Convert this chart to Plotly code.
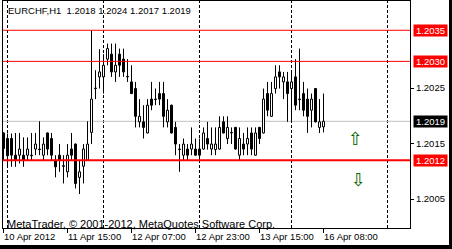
import plotly.graph_objects as go

# ---------------- data ----------------
SYMBOL_TEXT = "EURCHF,H1  1.2018 1.2024 1.2017 1.2019"
COPYRIGHT = "MetaTrader, \u00a9 2001-2012, MetaQuotes Software Corp."

BAR_INDEX = list(range(81))
OPEN = [1.20169, 1.20159, 1.20159, 1.20129, 1.20129, 1.20129, 1.20129, 1.20129, 1.20140, 1.20140,
        1.20129, 1.20169, 1.20159, 1.20120, 1.20129, 1.20110, 1.20099, 1.20140, 1.20149, 1.20089,
        1.20109, 1.20120, 1.20170, 1.20249, 1.20270, 1.20270, 1.20302, 1.20311, 1.20279, 1.20311,
        1.20302, 1.20270, 1.20261, 1.20249, 1.20189, 1.20189, 1.20169, 1.20230, 1.20229, 1.20240,
        1.20240, 1.20189, 1.20219, 1.20179, 1.20140, 1.20129, 1.20140, 1.20140, 1.20140, 1.20140,
        1.20140, 1.20159, 1.20140, 1.20139, 1.20140, 1.20189, 1.20159, 1.20169, 1.20179, 1.20129,
        1.20149, 1.20149, 1.20169, 1.20129, 1.20179, 1.20169, 1.20240, 1.20199, 1.20249, 1.20279,
        1.20261, 1.20261, 1.20249, 1.20270, 1.20230, 1.20240, 1.20230, 1.20210, 1.20249, 1.20179,
        1.20180]
HIGH = [1.20170, 1.20168, 1.20168, 1.20169, 1.20169, 1.20161, 1.20161, 1.20169, 1.20169, 1.20190,
        1.20161, 1.20170, 1.20169, 1.20129, 1.20149, 1.20129, 1.20149, 1.20169, 1.20150, 1.20119,
        1.20149, 1.20190, 1.20354, 1.20282, 1.20320, 1.20311, 1.20330, 1.20330, 1.20330, 1.20321,
        1.20321, 1.20302, 1.20291, 1.20261, 1.20230, 1.20219, 1.20230, 1.20261, 1.20249, 1.20261,
        1.20261, 1.20230, 1.20220, 1.20189, 1.20149, 1.20159, 1.20149, 1.20179, 1.20159, 1.20159,
        1.20179, 1.20189, 1.20179, 1.20179, 1.20199, 1.20199, 1.20199, 1.20179, 1.20180, 1.20179,
        1.20169, 1.20179, 1.20179, 1.20179, 1.20180, 1.20249, 1.20261, 1.20261, 1.20291, 1.20291,
        1.20279, 1.20279, 1.20279, 1.20302, 1.20321, 1.20261, 1.20249, 1.20240, 1.20250, 1.20230,
        1.20240]
LOW = [1.20120, 1.20108, 1.20108, 1.20108, 1.20114, 1.20108, 1.20120, 1.20120, 1.20129, 1.20129,
       1.20120, 1.20129, 1.20120, 1.20089, 1.20099, 1.20078, 1.20089, 1.20120, 1.20069, 1.20059,
       1.20078, 1.20119, 1.20149, 1.20230, 1.20249, 1.20240, 1.20291, 1.20270, 1.20261, 1.20270,
       1.20270, 1.20261, 1.20239, 1.20179, 1.20179, 1.20159, 1.20168, 1.20210, 1.20219, 1.20219,
       1.20179, 1.20179, 1.20168, 1.20129, 1.20099, 1.20120, 1.20120, 1.20129, 1.20128, 1.20120,
       1.20139, 1.20139, 1.20129, 1.20129, 1.20139, 1.20168, 1.20149, 1.20149, 1.20139, 1.20120,
       1.20129, 1.20129, 1.20129, 1.20128, 1.20149, 1.20168, 1.20199, 1.20198, 1.20240, 1.20249,
       1.20230, 1.20189, 1.20189, 1.20210, 1.20210, 1.20199, 1.20169, 1.20179, 1.20188, 1.20169,
       1.20170]
CLOSE = [1.20141, 1.20128, 1.20129, 1.20120, 1.20140, 1.20120, 1.20140, 1.20128, 1.20149, 1.20139,
         1.20149, 1.20140, 1.20129, 1.20108, 1.20120, 1.20109, 1.20129, 1.20129, 1.20078, 1.20099,
         1.20140, 1.20149, 1.20230, 1.20250, 1.20279, 1.20291, 1.20321, 1.20279, 1.20291, 1.20291,
         1.20279, 1.20271, 1.20240, 1.20199, 1.20199, 1.20179, 1.20219, 1.20219, 1.20230, 1.20230,
         1.20199, 1.20210, 1.20169, 1.20149, 1.20139, 1.20149, 1.20129, 1.20149, 1.20129, 1.20129,
         1.20169, 1.20149, 1.20149, 1.20149, 1.20179, 1.20169, 1.20179, 1.20170, 1.20140, 1.20159,
         1.20140, 1.20159, 1.20140, 1.20169, 1.20159, 1.20230, 1.20210, 1.20240, 1.20270, 1.20270,
         1.20270, 1.20240, 1.20261, 1.20219, 1.20229, 1.20210, 1.20199, 1.20230, 1.20189, 1.20189,
         1.20190]

TICK_INDEX = [0, 16, 32, 48, 64, 80]
TICK_LABELS = ["10 Apr 2012", "11 Apr 15:00", "12 Apr 07:00", "12 Apr 23:00", "13 Apr 15:00", "16 Apr 08:00"]
GRID_INDEX = [1, 25, 49, 72, 96]

PRICE_TICKS = [1.2005, 1.2015, 1.2025]

LEVEL_PRICES = [1.20354, 1.20298, 1.20120]
LEVEL_LABELS = ["1.2035", "1.2030", "1.2012"]
LEVEL_WIDTHS = [1, 1, 2]
BID_PRICE = 1.20190
BID_LABEL = "1.2019"

ARROW_INDEX = [88.0, 88.7]
ARROW_PRICE = [1.20159, 1.20086]
ARROW_TEXT = ["\u21e7", "\u21e9"]

# ---------------- figure ----------------
W, H = 452, 249
FONT = "Liberation Sans, Arial, sans-serif"

bases, heights, colors = [], [], []
wx, wy = [], []
for i, o, h, l, c in zip(BAR_INDEX, OPEN, HIGH, LOW, CLOSE):
    lo, hi = min(o, c), max(o, c)
    bases.append(lo)
    heights.append(hi - lo)
    colors.append("white" if c > o else "black")
    wx += [i, i, None, i, i, None]
    wy += [h, hi, None, lo, l, None]

fig = go.Figure()
fig.add_trace(go.Scatter(x=wx, y=wy, mode="lines", line=dict(color="black", width=1),
                         hoverinfo="skip", showlegend=False))
fig.add_trace(go.Bar(x=BAR_INDEX, y=heights, base=bases, width=0.5,
                     marker=dict(color=colors, line=dict(color="black", width=1)),
                     hoverinfo="skip", showlegend=False))

shapes = []
for g in GRID_INDEX:
    shapes.append(dict(type="line", xref="x", yref="y domain", x0=g, x1=g, y0=0, y1=1,
                       line=dict(color="black", width=1, dash="3px,2px"), layer="below"))
shapes.append(dict(type="line", xref="x domain", yref="y", x0=0, x1=1, y0=BID_PRICE, y1=BID_PRICE,
                   line=dict(color="#C0C0C0", width=1), layer="below"))
for p, wdt in zip(LEVEL_PRICES, LEVEL_WIDTHS):
    shapes.append(dict(type="line", xref="x domain", yref="y", x0=0, x1=1, y0=p, y1=p,
                       line=dict(color="#FF0000", width=wdt), layer="above"))
# outer frame (right and bottom dark edges)
shapes.append(dict(type="rect", xref="paper", yref="paper", x0=449 / W, x1=1, y0=0, y1=1,
                   fillcolor="black", line=dict(width=0)))
shapes.append(dict(type="rect", xref="paper", yref="paper", x0=0, x1=1, y0=0, y1=4 / H,
                   fillcolor="black", line=dict(width=0)))

ann = []
ann.append(dict(text=SYMBOL_TEXT, xref="paper", yref="paper", x=6 / W, y=(H - 10.5) / H,
                xanchor="left", yanchor="middle", showarrow=False,
                font=dict(family=FONT, size=9.5, color="black")))
ann.append(dict(text=COPYRIGHT, xref="paper", yref="paper", x=5 / W, y=(H - 223.5) / H,
                xanchor="left", yanchor="middle", showarrow=False,
                font=dict(family=FONT, size=11, color="black")))
for t, lab in zip(TICK_INDEX, TICK_LABELS):
    ann.append(dict(text=lab, xref="x", yref="paper", x=t, y=(H - 236) / H,
                    xanchor="left", yanchor="middle", showarrow=False, xshift=-2,
                    font=dict(family=FONT, size=9.5, color="black")))
for p, lab in zip(LEVEL_PRICES, LEVEL_LABELS):
    ann.append(dict(text=lab, xref="paper", yref="y", x=413 / W, y=p,
                    xanchor="left", yanchor="middle", showarrow=False,
                    width=31, height=9, borderpad=1, bgcolor="#FF0000",
                    font=dict(family=FONT, size=9.5, color="white")))
ann.append(dict(text=BID_LABEL, xref="paper", yref="y", x=413 / W, y=BID_PRICE,
                xanchor="left", yanchor="middle", showarrow=False,
                width=31, height=9, borderpad=1, bgcolor="black",
                font=dict(family=FONT, size=9.5, color="white")))
for xi, pr, tx in zip(ARROW_INDEX, ARROW_PRICE, ARROW_TEXT):
    ann.append(dict(text=tx, xref="x", yref="y", x=xi, y=pr, showarrow=False,
                    xanchor="center", yanchor="middle",
                    font=dict(family="DejaVu Sans", size=18, color="#006400")))

fig.update_layout(
    width=W, height=H, margin=dict(l=0, r=0, t=0, b=0, autoexpand=False),
    paper_bgcolor="white", plot_bgcolor="white",
    shapes=shapes, annotations=ann, showlegend=False,
    xaxis=dict(domain=[3 / W, 410 / W], range=[-0.125, 101.625], showgrid=False, zeroline=False,
               showline=True, linecolor="black", linewidth=1, mirror=True,
               ticks="outside", tickvals=TICK_INDEX, ticklen=4, tickcolor="black", tickwidth=1,
               showticklabels=False, fixedrange=True),
    yaxis=dict(domain=[(H - 228) / H, (H - 1) / H], range=[1.1999775, 1.2040676], side="right",
               showgrid=False, zeroline=False, showline=True, linecolor="black", linewidth=1,
               mirror=True, ticks="outside", ticklen=3, tickcolor="black", tickwidth=1,
               tickvals=PRICE_TICKS, ticktext=[f"{v:.4f}" for v in PRICE_TICKS],
               tickfont=dict(family=FONT, size=9.5, color="black"), fixedrange=True),
)

fig.write_html("out.html")
